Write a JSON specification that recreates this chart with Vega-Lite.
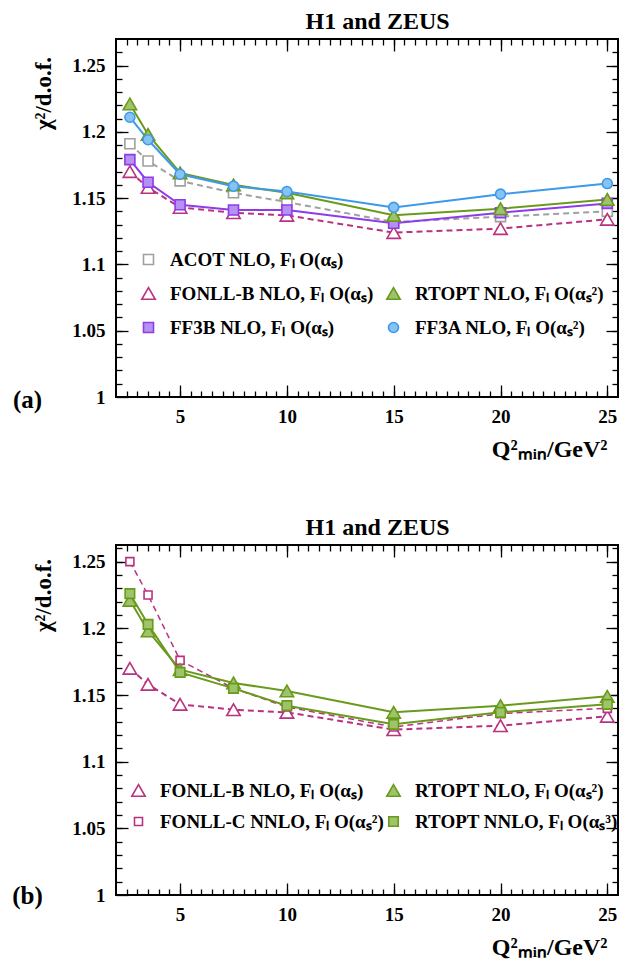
{
  "$schema": "https://vega.github.io/schema/vega-lite/v6.json",
  "padding": {"left": 10, "top": 9, "right": 5, "bottom": 5},
  "background": "white",
  "spacing": 53,
  "resolve": {"scale": {"color": "independent", "strokeWidth": "independent", "fill": "independent", "stroke": "independent", "shape": "independent", "size": "independent"}},
  "datasets": {
    "a": [
      {"series": "ACOT NLO, Fₗ O(αₛ)", "q2": 2.65, "chi2": 1.191},
      {"series": "ACOT NLO, Fₗ O(αₛ)", "q2": 3.5, "chi2": 1.178},
      {"series": "ACOT NLO, Fₗ O(αₛ)", "q2": 5, "chi2": 1.163},
      {"series": "ACOT NLO, Fₗ O(αₛ)", "q2": 7.5, "chi2": 1.154},
      {"series": "ACOT NLO, Fₗ O(αₛ)", "q2": 10, "chi2": 1.147},
      {"series": "ACOT NLO, Fₗ O(αₛ)", "q2": 15, "chi2": 1.132},
      {"series": "ACOT NLO, Fₗ O(αₛ)", "q2": 20, "chi2": 1.136},
      {"series": "ACOT NLO, Fₗ O(αₛ)", "q2": 25, "chi2": 1.140},
      {"series": "FONLL-B NLO, Fₗ O(αₛ)", "q2": 2.65, "chi2": 1.170},
      {"series": "FONLL-B NLO, Fₗ O(αₛ)", "q2": 3.5, "chi2": 1.158},
      {"series": "FONLL-B NLO, Fₗ O(αₛ)", "q2": 5, "chi2": 1.143},
      {"series": "FONLL-B NLO, Fₗ O(αₛ)", "q2": 7.5, "chi2": 1.139},
      {"series": "FONLL-B NLO, Fₗ O(αₛ)", "q2": 10, "chi2": 1.137},
      {"series": "FONLL-B NLO, Fₗ O(αₛ)", "q2": 15, "chi2": 1.124},
      {"series": "FONLL-B NLO, Fₗ O(αₛ)", "q2": 20, "chi2": 1.127},
      {"series": "FONLL-B NLO, Fₗ O(αₛ)", "q2": 25, "chi2": 1.134},
      {"series": "FF3B NLO, Fₗ O(αₛ)", "q2": 2.65, "chi2": 1.179},
      {"series": "FF3B NLO, Fₗ O(αₛ)", "q2": 3.5, "chi2": 1.162},
      {"series": "FF3B NLO, Fₗ O(αₛ)", "q2": 5, "chi2": 1.145},
      {"series": "FF3B NLO, Fₗ O(αₛ)", "q2": 7.5, "chi2": 1.141},
      {"series": "FF3B NLO, Fₗ O(αₛ)", "q2": 10, "chi2": 1.141},
      {"series": "FF3B NLO, Fₗ O(αₛ)", "q2": 15, "chi2": 1.131},
      {"series": "FF3B NLO, Fₗ O(αₛ)", "q2": 20, "chi2": 1.139},
      {"series": "FF3B NLO, Fₗ O(αₛ)", "q2": 25, "chi2": 1.146},
      {"series": "RTOPT NLO, Fₗ O(αₛ²)", "q2": 2.65, "chi2": 1.221},
      {"series": "RTOPT NLO, Fₗ O(αₛ²)", "q2": 3.5, "chi2": 1.198},
      {"series": "RTOPT NLO, Fₗ O(αₛ²)", "q2": 5, "chi2": 1.169},
      {"series": "RTOPT NLO, Fₗ O(αₛ²)", "q2": 7.5, "chi2": 1.160},
      {"series": "RTOPT NLO, Fₗ O(αₛ²)", "q2": 10, "chi2": 1.154},
      {"series": "RTOPT NLO, Fₗ O(αₛ²)", "q2": 15, "chi2": 1.137},
      {"series": "RTOPT NLO, Fₗ O(αₛ²)", "q2": 20, "chi2": 1.142},
      {"series": "RTOPT NLO, Fₗ O(αₛ²)", "q2": 25, "chi2": 1.149},
      {"series": "FF3A NLO, Fₗ O(αₛ²)", "q2": 2.65, "chi2": 1.211},
      {"series": "FF3A NLO, Fₗ O(αₛ²)", "q2": 3.5, "chi2": 1.194},
      {"series": "FF3A NLO, Fₗ O(αₛ²)", "q2": 5, "chi2": 1.168},
      {"series": "FF3A NLO, Fₗ O(αₛ²)", "q2": 7.5, "chi2": 1.159},
      {"series": "FF3A NLO, Fₗ O(αₛ²)", "q2": 10, "chi2": 1.155},
      {"series": "FF3A NLO, Fₗ O(αₛ²)", "q2": 15, "chi2": 1.143},
      {"series": "FF3A NLO, Fₗ O(αₛ²)", "q2": 20, "chi2": 1.153},
      {"series": "FF3A NLO, Fₗ O(αₛ²)", "q2": 25, "chi2": 1.161}
    ],
    "b": [
      {"series": "FONLL-B NLO, Fₗ O(αₛ)", "q2": 2.65, "chi2": 1.170},
      {"series": "FONLL-B NLO, Fₗ O(αₛ)", "q2": 3.5, "chi2": 1.158},
      {"series": "FONLL-B NLO, Fₗ O(αₛ)", "q2": 5, "chi2": 1.143},
      {"series": "FONLL-B NLO, Fₗ O(αₛ)", "q2": 7.5, "chi2": 1.139},
      {"series": "FONLL-B NLO, Fₗ O(αₛ)", "q2": 10, "chi2": 1.137},
      {"series": "FONLL-B NLO, Fₗ O(αₛ)", "q2": 15, "chi2": 1.124},
      {"series": "FONLL-B NLO, Fₗ O(αₛ)", "q2": 20, "chi2": 1.127},
      {"series": "FONLL-B NLO, Fₗ O(αₛ)", "q2": 25, "chi2": 1.134},
      {"series": "FONLL-C NNLO, Fₗ O(αₛ²)", "q2": 2.65, "chi2": 1.250},
      {"series": "FONLL-C NNLO, Fₗ O(αₛ²)", "q2": 3.5, "chi2": 1.225},
      {"series": "FONLL-C NNLO, Fₗ O(αₛ²)", "q2": 5, "chi2": 1.176},
      {"series": "FONLL-C NNLO, Fₗ O(αₛ²)", "q2": 7.5, "chi2": 1.155},
      {"series": "FONLL-C NNLO, Fₗ O(αₛ²)", "q2": 10, "chi2": 1.141},
      {"series": "FONLL-C NNLO, Fₗ O(αₛ²)", "q2": 15, "chi2": 1.126},
      {"series": "FONLL-C NNLO, Fₗ O(αₛ²)", "q2": 20, "chi2": 1.136},
      {"series": "FONLL-C NNLO, Fₗ O(αₛ²)", "q2": 25, "chi2": 1.140},
      {"series": "RTOPT NLO, Fₗ O(αₛ²)", "q2": 2.65, "chi2": 1.221},
      {"series": "RTOPT NLO, Fₗ O(αₛ²)", "q2": 3.5, "chi2": 1.198},
      {"series": "RTOPT NLO, Fₗ O(αₛ²)", "q2": 5, "chi2": 1.169},
      {"series": "RTOPT NLO, Fₗ O(αₛ²)", "q2": 7.5, "chi2": 1.159},
      {"series": "RTOPT NLO, Fₗ O(αₛ²)", "q2": 10, "chi2": 1.153},
      {"series": "RTOPT NLO, Fₗ O(αₛ²)", "q2": 15, "chi2": 1.137},
      {"series": "RTOPT NLO, Fₗ O(αₛ²)", "q2": 20, "chi2": 1.142},
      {"series": "RTOPT NLO, Fₗ O(αₛ²)", "q2": 25, "chi2": 1.149},
      {"series": "RTOPT NNLO, Fₗ O(αₛ³)", "q2": 2.65, "chi2": 1.226},
      {"series": "RTOPT NNLO, Fₗ O(αₛ³)", "q2": 3.5, "chi2": 1.203},
      {"series": "RTOPT NNLO, Fₗ O(αₛ³)", "q2": 5, "chi2": 1.167},
      {"series": "RTOPT NNLO, Fₗ O(αₛ³)", "q2": 7.5, "chi2": 1.155},
      {"series": "RTOPT NNLO, Fₗ O(αₛ³)", "q2": 10, "chi2": 1.142},
      {"series": "RTOPT NNLO, Fₗ O(αₛ³)", "q2": 15, "chi2": 1.128},
      {"series": "RTOPT NNLO, Fₗ O(αₛ³)", "q2": 20, "chi2": 1.137},
      {"series": "RTOPT NNLO, Fₗ O(αₛ³)", "q2": 25, "chi2": 1.143}
    ]
  },
  "config": {
    "font": "Liberation Serif",
    "view": {"stroke": "#000", "strokeWidth": 2},
    "axis": {
      "labelFont": "Liberation Serif", "labelFontWeight": "bold", "labelFontSize": 19, "labelColor": "#000",
      "titleFont": "Liberation Serif", "titleFontWeight": "bold", "titleFontSize": 24, "titleColor": "#000",
      "tickColor": "#000", "tickWidth": 1.3, "domain": false, "grid": false, "labelFlush": false, "labelOverlap": false
    },
    "legend": {
      "labelFont": "Liberation Serif", "labelFontWeight": "bold", "labelFontSize": 19, "labelColor": "#000",
      "labelLimit": 600, "rowPadding": 14, "labelOffset": 12, "padding": 0, "orient": "none", "symbolStrokeWidth": 1.6
    },
    "title": {"font": "Liberation Serif", "fontWeight": "bold", "fontSize": 24, "color": "#000", "anchor": "end", "dx": -169, "offset": 4}
  },
  "vconcat": [
    {
      "width": 502, "height": 358,
      "title": "H1 and ZEUS",
      "data": {"name": "a"},
      "layer": [
        {
          "transform": [{"filter": {"field": "series", "oneOf": ["ACOT NLO, Fₗ O(αₛ)", "FONLL-B NLO, Fₗ O(αₛ)"]}}],
          "mark": {"type": "line", "strokeWidth": 2, "strokeDash": [6, 4]},
          "encoding": {
            "x": {"field": "q2", "type": "quantitative", "scale": {"domain": [2, 25.5], "nice": false, "zero": false},
              "axis": {"orient": "bottom", "values": [5, 10, 15, 20, 25], "tickSize": -12, "labelPadding": 22,
                "title": "Q²ₘᵢₙ/GeV²", "titleX": 491, "titleY": 59, "titleAlign": "right", "titleBaseline": "alphabetic"}},
            "y": {"field": "chi2", "type": "quantitative", "scale": {"domain": [1, 1.27], "nice": false, "zero": false},
              "axis": {"orient": "left", "values": [1, 1.05, 1.1, 1.15, 1.2, 1.25], "format": "~g", "tickSize": -12, "labelPadding": 23,
                "title": "χ²/d.o.f.", "titleX": -73, "titleY": 54, "titleAlign": "center", "titleBaseline": "middle", "titleAngle": 270, "titleFontSize": 23}},
            "color": {"field": "series", "type": "nominal", "legend": null,
              "scale": {"domain": ["ACOT NLO, Fₗ O(αₛ)", "FONLL-B NLO, Fₗ O(αₛ)", "FF3B NLO, Fₗ O(αₛ)", "RTOPT NLO, Fₗ O(αₛ²)", "FF3A NLO, Fₗ O(αₛ²)"],
                "range": ["#a0a0a0", "#b8327f", "#8e3bea", "#6a9a1c", "#3d9ae8"]}}
          }
        },
        {
          "transform": [{"filter": {"field": "series", "oneOf": ["FF3B NLO, Fₗ O(αₛ)", "RTOPT NLO, Fₗ O(αₛ²)", "FF3A NLO, Fₗ O(αₛ²)"]}}],
          "mark": {"type": "line", "strokeWidth": 2},
          "encoding": {
            "x": {"field": "q2", "type": "quantitative",
              "axis": {"orient": "bottom", "values": [2.5,3,3.5,4,4.5,5,5.5,6,6.5,7,7.5,8,8.5,9,9.5,10,10.5,11,11.5,12,12.5,13,13.5,14,14.5,15,15.5,16,16.5,17,17.5,18,18.5,19,19.5,20,20.5,21,21.5,22,22.5,23,23.5,24,24.5,25], "tickSize": -6, "labels": false, "title": null}},
            "y": {"field": "chi2", "type": "quantitative",
              "axis": {"orient": "left", "values": [1.01,1.02,1.03,1.04,1.05,1.06,1.07,1.08,1.09,1.1,1.11,1.12,1.13,1.14,1.15,1.16,1.17,1.18,1.19,1.2,1.21,1.22,1.23,1.24,1.25,1.26], "tickSize": -6, "labels": false,
                "title": "(a)", "titleAngle": 0, "titleX": -89, "titleY": 360, "titleAlign": "center", "titleBaseline": "middle", "titleFontSize": 25}},
            "color": {"field": "series", "type": "nominal", "legend": null}
          }
        },
        {
          "transform": [{"filter": {"field": "series", "oneOf": ["ACOT NLO, Fₗ O(αₛ)", "FONLL-B NLO, Fₗ O(αₛ)", "FF3B NLO, Fₗ O(αₛ)"]}}],
          "mark": {"type": "point", "opacity": 1, "fillOpacity": 1, "strokeWidth": 1.6},
          "encoding": {
            "x": {"field": "q2", "type": "quantitative",
              "axis": {"orient": "top", "values": [5, 10, 15, 20, 25], "tickSize": -12, "labels": false, "title": null}},
            "y": {"field": "chi2", "type": "quantitative",
              "axis": {"orient": "right", "values": [1.05, 1.1, 1.15, 1.2, 1.25], "tickSize": -12, "labels": false, "title": null}},
            "fill": {"field": "series", "type": "nominal",
              "scale": {"domain": ["ACOT NLO, Fₗ O(αₛ)", "FONLL-B NLO, Fₗ O(αₛ)", "FF3B NLO, Fₗ O(αₛ)"], "range": ["white", "white", "#b592f2"]},
              "legend": {"title": null, "legendX": 23, "legendY": 211}},
            "stroke": {"field": "series", "type": "nominal",
              "scale": {"domain": ["ACOT NLO, Fₗ O(αₛ)", "FONLL-B NLO, Fₗ O(αₛ)", "FF3B NLO, Fₗ O(αₛ)"], "range": ["#a0a0a0", "#b8327f", "#8e3bea"]},
              "legend": {"title": null, "legendX": 23, "legendY": 211}},
            "shape": {"field": "series", "type": "nominal",
              "scale": {"domain": ["ACOT NLO, Fₗ O(αₛ)", "FONLL-B NLO, Fₗ O(αₛ)", "FF3B NLO, Fₗ O(αₛ)"], "range": ["square", "triangle-up", "square"]},
              "legend": {"title": null, "legendX": 23, "legendY": 211}},
            "size": {"field": "series", "type": "nominal",
              "scale": {"type": "ordinal", "domain": ["ACOT NLO, Fₗ O(αₛ)", "FONLL-B NLO, Fₗ O(αₛ)", "FF3B NLO, Fₗ O(αₛ)"], "range": [100, 180, 100]},
              "legend": {"title": null, "legendX": 23, "legendY": 211}}
          }
        },
        {
          "transform": [{"filter": {"field": "series", "oneOf": ["RTOPT NLO, Fₗ O(αₛ²)", "FF3A NLO, Fₗ O(αₛ²)"]}}],
          "mark": {"type": "point", "opacity": 1, "fillOpacity": 1, "strokeWidth": 1.6},
          "encoding": {
            "x": {"field": "q2", "type": "quantitative",
              "axis": {"orient": "top", "values": [2.5,3,3.5,4,4.5,5,5.5,6,6.5,7,7.5,8,8.5,9,9.5,10,10.5,11,11.5,12,12.5,13,13.5,14,14.5,15,15.5,16,16.5,17,17.5,18,18.5,19,19.5,20,20.5,21,21.5,22,22.5,23,23.5,24,24.5,25], "tickSize": -6, "labels": false, "title": null}},
            "y": {"field": "chi2", "type": "quantitative",
              "axis": {"orient": "right", "values": [1.01,1.02,1.03,1.04,1.05,1.06,1.07,1.08,1.09,1.1,1.11,1.12,1.13,1.14,1.15,1.16,1.17,1.18,1.19,1.2,1.21,1.22,1.23,1.24,1.25,1.26], "tickSize": -6, "labels": false, "title": null}},
            "fill": {"field": "series", "type": "nominal",
              "scale": {"domain": ["RTOPT NLO, Fₗ O(αₛ²)", "FF3A NLO, Fₗ O(αₛ²)"], "range": ["#9dc46a", "#86c2f4"]},
              "legend": {"title": null, "legendX": 268, "legendY": 245}},
            "stroke": {"field": "series", "type": "nominal",
              "scale": {"domain": ["RTOPT NLO, Fₗ O(αₛ²)", "FF3A NLO, Fₗ O(αₛ²)"], "range": ["#6a9a1c", "#3d9ae8"]},
              "legend": {"title": null, "legendX": 268, "legendY": 245}},
            "shape": {"field": "series", "type": "nominal",
              "scale": {"domain": ["RTOPT NLO, Fₗ O(αₛ²)", "FF3A NLO, Fₗ O(αₛ²)"], "range": ["triangle-up", "circle"]},
              "legend": {"title": null, "legendX": 268, "legendY": 245}},
            "size": {"field": "series", "type": "nominal",
              "scale": {"type": "ordinal", "domain": ["RTOPT NLO, Fₗ O(αₛ²)", "FF3A NLO, Fₗ O(αₛ²)"], "range": [180, 100]},
              "legend": {"title": null, "legendX": 268, "legendY": 245}}
          }
        }
      ],
      "resolve": {
        "axis": {"x": "independent", "y": "independent"},
        "scale": {"fill": "independent", "stroke": "independent", "shape": "independent", "size": "independent"}
      }
    },
    {
      "width": 502, "height": 350,
      "title": "H1 and ZEUS",
      "data": {"name": "b"},
      "layer": [
        {
          "transform": [{"filter": {"field": "series", "oneOf": ["FONLL-B NLO, Fₗ O(αₛ)", "FONLL-C NNLO, Fₗ O(αₛ²)"]}}],
          "mark": {"type": "line", "strokeDash": [6, 4]},
          "encoding": {
            "x": {"field": "q2", "type": "quantitative", "scale": {"domain": [2, 25.5], "nice": false, "zero": false},
              "axis": {"orient": "bottom", "values": [5, 10, 15, 20, 25], "tickSize": -12, "labelPadding": 22,
                "title": "Q²ₘᵢₙ/GeV²", "titleX": 491, "titleY": 59, "titleAlign": "right", "titleBaseline": "alphabetic"}},
            "y": {"field": "chi2", "type": "quantitative", "scale": {"domain": [1, 1.2625], "nice": false, "zero": false},
              "axis": {"orient": "left", "values": [1, 1.05, 1.1, 1.15, 1.2, 1.25], "format": "~g", "tickSize": -12, "labelPadding": 23,
                "title": "χ²/d.o.f.", "titleX": -73, "titleY": 50, "titleAlign": "center", "titleBaseline": "middle", "titleAngle": 270, "titleFontSize": 23}},
            "color": {"field": "series", "type": "nominal", "legend": null,
              "scale": {"domain": ["FONLL-B NLO, Fₗ O(αₛ)", "FONLL-C NNLO, Fₗ O(αₛ²)", "RTOPT NLO, Fₗ O(αₛ²)", "RTOPT NNLO, Fₗ O(αₛ³)"],
                "range": ["#b8327f", "#b8327f", "#6a9a1c", "#6a9a1c"]}},
            "strokeWidth": {"field": "series", "type": "nominal", "legend": null,
              "scale": {"type": "ordinal", "domain": ["FONLL-B NLO, Fₗ O(αₛ)", "FONLL-C NNLO, Fₗ O(αₛ²)"], "range": [2, 1.5]}}
          }
        },
        {
          "transform": [{"filter": {"field": "series", "oneOf": ["RTOPT NLO, Fₗ O(αₛ²)", "RTOPT NNLO, Fₗ O(αₛ³)"]}}],
          "mark": {"type": "line", "strokeWidth": 2},
          "encoding": {
            "x": {"field": "q2", "type": "quantitative",
              "axis": {"orient": "bottom", "values": [2.5,3,3.5,4,4.5,5,5.5,6,6.5,7,7.5,8,8.5,9,9.5,10,10.5,11,11.5,12,12.5,13,13.5,14,14.5,15,15.5,16,16.5,17,17.5,18,18.5,19,19.5,20,20.5,21,21.5,22,22.5,23,23.5,24,24.5,25], "tickSize": -6, "labels": false, "title": null}},
            "y": {"field": "chi2", "type": "quantitative",
              "axis": {"orient": "left", "values": [1.01,1.02,1.03,1.04,1.05,1.06,1.07,1.08,1.09,1.1,1.11,1.12,1.13,1.14,1.15,1.16,1.17,1.18,1.19,1.2,1.21,1.22,1.23,1.24,1.25,1.26], "tickSize": -6, "labels": false,
                "title": "(b)", "titleAngle": 0, "titleX": -89, "titleY": 350, "titleAlign": "center", "titleBaseline": "middle", "titleFontSize": 25}},
            "color": {"field": "series", "type": "nominal", "legend": null}
          }
        },
        {
          "transform": [{"filter": {"field": "series", "oneOf": ["FONLL-B NLO, Fₗ O(αₛ)", "FONLL-C NNLO, Fₗ O(αₛ²)"]}}],
          "mark": {"type": "point", "opacity": 1, "fillOpacity": 1, "strokeWidth": 1.6},
          "encoding": {
            "x": {"field": "q2", "type": "quantitative",
              "axis": {"orient": "top", "values": [5, 10, 15, 20, 25], "tickSize": -12, "labels": false, "title": null}},
            "y": {"field": "chi2", "type": "quantitative",
              "axis": {"orient": "right", "values": [1.05, 1.1, 1.15, 1.2, 1.25], "tickSize": -12, "labels": false, "title": null}},
            "fill": {"field": "series", "type": "nominal",
              "scale": {"domain": ["FONLL-B NLO, Fₗ O(αₛ)", "FONLL-C NNLO, Fₗ O(αₛ²)"], "range": ["white", "white"]},
              "legend": {"title": null, "legendX": 13, "legendY": 236, "rowPadding": 11}},
            "stroke": {"field": "series", "type": "nominal",
              "scale": {"domain": ["FONLL-B NLO, Fₗ O(αₛ)", "FONLL-C NNLO, Fₗ O(αₛ²)"], "range": ["#b8327f", "#b8327f"]},
              "legend": {"title": null, "legendX": 13, "legendY": 236, "rowPadding": 11}},
            "shape": {"field": "series", "type": "nominal",
              "scale": {"domain": ["FONLL-B NLO, Fₗ O(αₛ)", "FONLL-C NNLO, Fₗ O(αₛ²)"], "range": ["triangle-up", "square"]},
              "legend": {"title": null, "legendX": 13, "legendY": 236, "rowPadding": 11}},
            "size": {"field": "series", "type": "nominal",
              "scale": {"type": "ordinal", "domain": ["FONLL-B NLO, Fₗ O(αₛ)", "FONLL-C NNLO, Fₗ O(αₛ²)"], "range": [180, 64]},
              "legend": {"title": null, "legendX": 13, "legendY": 236, "rowPadding": 11}}
          }
        },
        {
          "transform": [{"filter": {"field": "series", "oneOf": ["RTOPT NLO, Fₗ O(αₛ²)", "RTOPT NNLO, Fₗ O(αₛ³)"]}}],
          "mark": {"type": "point", "opacity": 1, "fillOpacity": 1, "strokeWidth": 1.6},
          "encoding": {
            "x": {"field": "q2", "type": "quantitative",
              "axis": {"orient": "top", "values": [2.5,3,3.5,4,4.5,5,5.5,6,6.5,7,7.5,8,8.5,9,9.5,10,10.5,11,11.5,12,12.5,13,13.5,14,14.5,15,15.5,16,16.5,17,17.5,18,18.5,19,19.5,20,20.5,21,21.5,22,22.5,23,23.5,24,24.5,25], "tickSize": -6, "labels": false, "title": null}},
            "y": {"field": "chi2", "type": "quantitative",
              "axis": {"orient": "right", "values": [1.01,1.02,1.03,1.04,1.05,1.06,1.07,1.08,1.09,1.1,1.11,1.12,1.13,1.14,1.15,1.16,1.17,1.18,1.19,1.2,1.21,1.22,1.23,1.24,1.25,1.26], "tickSize": -6, "labels": false, "title": null}},
            "fill": {"field": "series", "type": "nominal",
              "scale": {"domain": ["RTOPT NLO, Fₗ O(αₛ²)", "RTOPT NNLO, Fₗ O(αₛ³)"], "range": ["#9dc46a", "#9dc46a"]},
              "legend": {"title": null, "legendX": 268, "legendY": 236, "rowPadding": 11}},
            "stroke": {"field": "series", "type": "nominal",
              "scale": {"domain": ["RTOPT NLO, Fₗ O(αₛ²)", "RTOPT NNLO, Fₗ O(αₛ³)"], "range": ["#6a9a1c", "#6a9a1c"]},
              "legend": {"title": null, "legendX": 268, "legendY": 236, "rowPadding": 11}},
            "shape": {"field": "series", "type": "nominal",
              "scale": {"domain": ["RTOPT NLO, Fₗ O(αₛ²)", "RTOPT NNLO, Fₗ O(αₛ³)"], "range": ["triangle-up", "square"]},
              "legend": {"title": null, "legendX": 268, "legendY": 236, "rowPadding": 11}},
            "size": {"field": "series", "type": "nominal",
              "scale": {"type": "ordinal", "domain": ["RTOPT NLO, Fₗ O(αₛ²)", "RTOPT NNLO, Fₗ O(αₛ³)"], "range": [180, 90]},
              "legend": {"title": null, "legendX": 268, "legendY": 236, "rowPadding": 11}}
          }
        }
      ],
      "resolve": {
        "axis": {"x": "independent", "y": "independent"},
        "scale": {"fill": "independent", "stroke": "independent", "shape": "independent", "size": "independent"}
      }
    }
  ]
}
